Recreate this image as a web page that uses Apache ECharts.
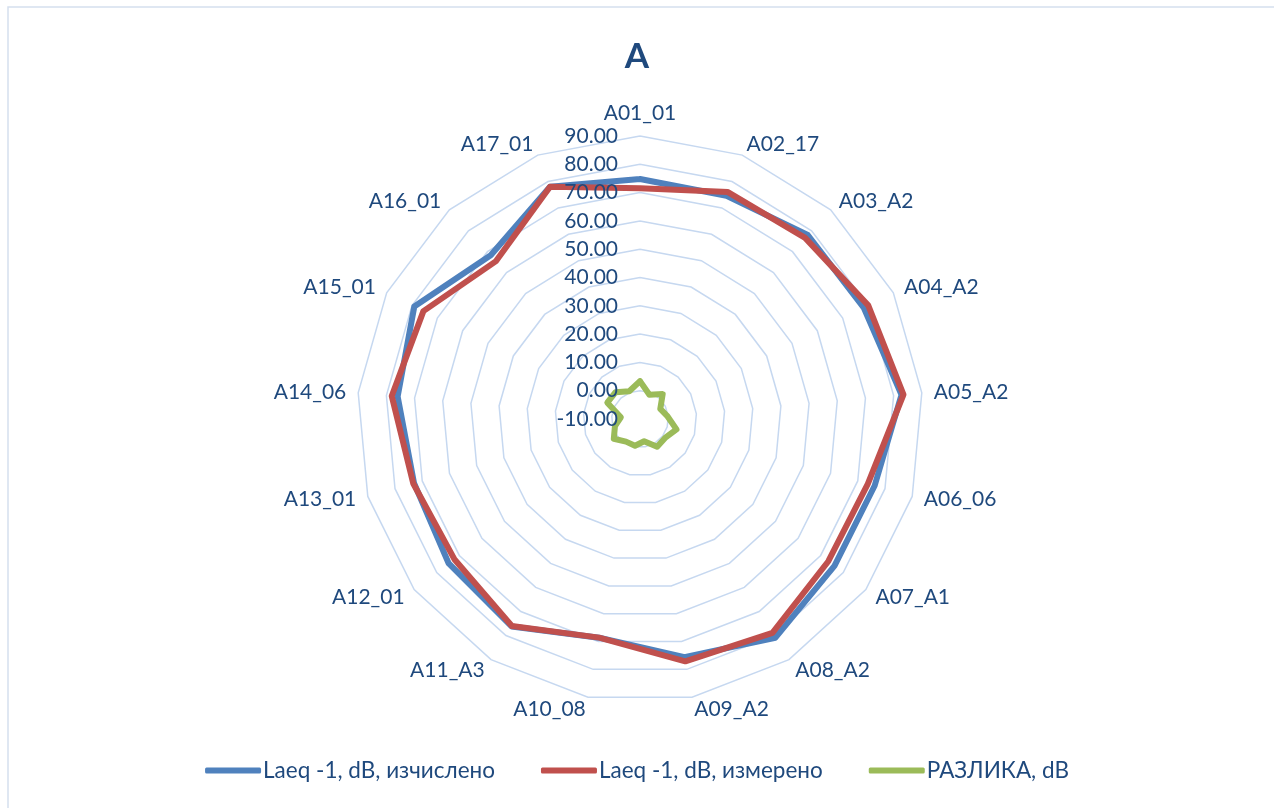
<!DOCTYPE html>
<html>
<head>
<meta charset="utf-8">
<script src="https://cdn.jsdelivr.net/npm/echarts@6/dist/echarts.min.js"></script>
<style>
  html, body { margin: 0; padding: 0; background: #ffffff; }
  #chart { width: 1274px; height: 808px; }
</style>
</head>
<body>
<div id="chart"></div>
<script>
// ---- data ----
const titleText = 'A';
const categories = ['A01_01','A02_17','A03_A2','A04_A2','A05_A2','A06_06','A07_A1','A08_A2','A09_A2','A10_08','A11_A3','A12_01','A13_01','A14_06','A15_01','A16_01','A17_01'];
const seriesNames = ['Laeq -1, dB, изчислено', 'Laeq -1, dB, измерено', 'РАЗЛИКА, dB'];
const calculated = [74.8, 74.6, 78.0, 78.3, 82.8, 76.2, 76.1, 80.9, 75.6, 68.6, 76.2, 74.7, 73.0, 76.0, 79.1, 68.3, 78.0];
const measured   = [71.5, 76.0, 76.6, 80.1, 83.5, 73.7, 73.4, 78.9, 77.1, 68.6, 76.0, 72.2, 73.3, 78.1, 75.5, 65.5, 78.0];
const difference = [3.4, -0.8, 1.9, -2.0, -0.2, 3.4, 1.1, 1.5, -2.0, -0.4, -0.6, 1.6, -0.8, -3.2, 2.9, 2.8, 0.5];
const axisMin = -10;
const axisMax = 90;
const axisStep = 10;

// ---- styles ----
const textColor = '#1F497D';
const gridColor = '#C6D8F0';
const colors = ['#4F81BD', '#C0504D', '#9BBB59'];
const font = 'Lato, "Open Sans", sans-serif';
const center = [640, 419];
const radius = 283;

// ECharts lays radar axes counter-clockwise; reorder so categories run clockwise
const order = [0].concat(categories.map((_, i) => i).slice(1).reverse());
const reorder = arr => order.map(i => arr[i]);

const chart = echarts.init(document.getElementById('chart'), null, { renderer: 'canvas' });

const lineStyle = c => ({ color: c, width: 6, join: 'round', cap: 'round' });

const option = {
  backgroundColor: '#ffffff',
  animation: false,
  color: colors,
  title: {
    text: titleText,
    left: 'center',
    top: 34,
    textStyle: { color: textColor, fontSize: 35, fontWeight: 'bold', fontFamily: font }
  },
  graphic: [{
    type: 'rect',
    shape: { x: 8, y: 7, width: 1400, height: 1000 },
    style: { fill: 'none', stroke: '#D5DFEE', lineWidth: 1.5 },
    silent: true, z: -1
  }],
  legend: {
    bottom: 21,
    left: 'center',
    itemWidth: 56,
    itemHeight: 6,
    itemGap: 46,
    icon: 'roundRect',
    textStyle: { color: textColor, fontSize: 22.5, fontFamily: font, padding: [0, 0, 0, -3] },
    data: seriesNames
  },
  radar: {
    center: center,
    radius: radius,
    startAngle: 90,
    shape: 'polygon',
    splitNumber: (axisMax - axisMin) / axisStep,
    indicator: reorder(categories).map(c => ({ name: c, min: axisMin, max: axisMax })),
    axisName: { color: textColor, fontSize: 21, fontFamily: font },
    nameGap: 12,
    axisLine: { show: false },
    axisTick: { show: false },
    splitArea: { show: false },
    splitLine: { lineStyle: { color: gridColor, width: 1.5 } }
  },
  polar: { center: center, radius: radius },
  angleAxis: { show: false, startAngle: 90, min: 0, max: 360 },
  radiusAxis: {
    min: axisMin,
    max: axisMax,
    interval: axisStep,
    axisLine: { show: false },
    axisTick: { show: false },
    splitLine: { show: false },
    axisLabel: {
      color: textColor,
      fontSize: 21,
      fontFamily: font,
      margin: 22,
      formatter: v => v.toFixed(2)
    },
    z: 10
  },
  series: [{
    type: 'radar',
    symbol: 'none',
    data: [
      { name: seriesNames[0], value: reorder(calculated), lineStyle: lineStyle(colors[0]), itemStyle: { color: colors[0] } },
      { name: seriesNames[1], value: reorder(measured), lineStyle: lineStyle(colors[1]), itemStyle: { color: colors[1] } },
      { name: seriesNames[2], value: reorder(difference), lineStyle: lineStyle(colors[2]), itemStyle: { color: colors[2] } }
    ]
  }]
};

chart.setOption(option);
</script>
</body>
</html>
